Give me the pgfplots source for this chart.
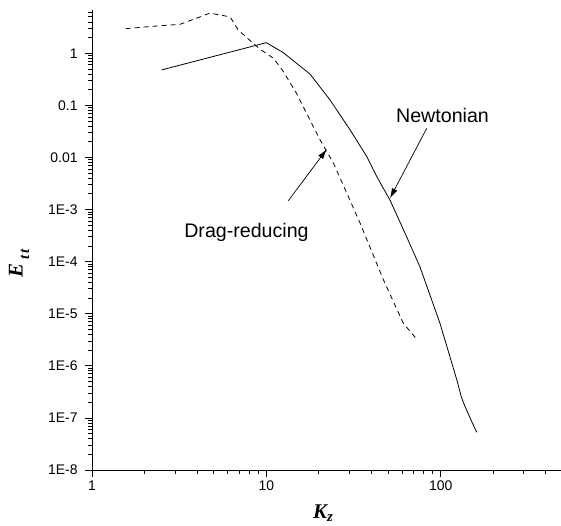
\documentclass[border=0pt]{standalone}
\usepackage{pgfplots}
\pgfplotsset{compat=1.18}
\usetikzlibrary{arrows.meta}
\usepackage{fontspec}
\setmainfont{Liberation Sans}
\newfontfamily\timesf{Liberation Serif}
\begin{document}
\begin{tikzpicture}
\begin{axis}[
  at={(0,0)}, anchor=south west,
  scale only axis, width=469bp, height=460bp,
  xmode=log, ymode=log,
  xmin=1, xmax=490, ymin=1e-8, ymax=6.78,
  axis x line*=bottom, axis y line*=left,
  axis line style={line width=0.8bp},
  tick align=outside,
  every tick/.style={black, line width=0.8bp},
  major tick length=7bp, minor tick length=4bp,
  xtick={1,10,100}, xticklabels={1,10,100},
  minor xtick={2,3,4,5,6,7,8,9,20,30,40,50,60,70,80,90,200,300,400},
  ytick={1e-8,1e-7,1e-6,1e-5,1e-4,1e-3,1e-2,1e-1,1},
  yticklabels={1E-8,1E-7,1E-6,1E-5,1E-4,1E-3,0.01,0.1,1},
  minor ytick={2e-8,3e-8,4e-8,5e-8,6e-8,7e-8,8e-8,9e-8,
    2e-7,3e-7,4e-7,5e-7,6e-7,7e-7,8e-7,9e-7,
    2e-6,3e-6,4e-6,5e-6,6e-6,7e-6,8e-6,9e-6,
    2e-5,3e-5,4e-5,5e-5,6e-5,7e-5,8e-5,9e-5,
    2e-4,3e-4,4e-4,5e-4,6e-4,7e-4,8e-4,9e-4,
    2e-3,3e-3,4e-3,5e-3,6e-3,7e-3,8e-3,9e-3,
    2e-2,3e-2,4e-2,5e-2,6e-2,7e-2,8e-2,9e-2,
    2e-1,3e-1,4e-1,5e-1,6e-1,7e-1,8e-1,9e-1,
    2,3,4,5,6},
  tick label style={font=\fontsize{14}{16}\selectfont},
  yticklabel style={xshift=-4bp},
]
\addplot[black, line width=0.8bp] coordinates {
(2.51,0.48) (10,1.6) (12.5,1.03) (17.8,0.40) (23.2,0.127) (30.2,0.034)
(37.7,0.0104) (43,0.0043) (51.3,0.0015) (63.8,3.0e-4) (76,8e-5)
(99,6.6e-6) (113,1.5e-6) (123.7,5.4e-7) (132,2.4e-7) (138,1.65e-7)
(150.7,8.5e-8) (161,5.3e-8)};
\addplot[black, line width=0.8bp, dash pattern=on 5bp off 4bp] coordinates {
(1.56,2.97) (2.24,3.3) (3.2,3.6) (4.75,5.9) (6.2,5.0) (6.9,2.8) (8.4,1.56)
(9.2,1.2) (11,0.8) (12.5,0.45) (14.9,0.17) (20.3,0.022) (24.3,0.0077)
(34.5,5.5e-4) (46.9,4.5e-5) (61,6.6e-6) (72,3.4e-6)};
\draw[line width=0.7bp, -{Latex[length=10bp,width=6bp]}] (axis cs:13.37,1.48e-3) -- (axis cs:22.2,0.01437);
\draw[line width=0.7bp, -{Latex[length=10bp,width=6bp]}] (axis cs:83.2,0.0363) -- (axis cs:51.2,1.65e-3);
\end{axis}
\node[font=\fontsize{19.7}{22}\selectfont] at (350.5bp,355bp) {Newtonian};
\node[font=\fontsize{19.7}{22}\selectfont] at (154.5bp,238bp) {Drag-reducing};
\node[rotate=90] at (-73bp,207bp) {\timesf\bfseries\itshape\fontsize{21}{21}\selectfont E\,\raisebox{-6.5bp}{\fontsize{15}{15}\selectfont t\,t}};
\node at (231bp,-43bp) {\timesf\bfseries\itshape\fontsize{21}{21}\selectfont K\raisebox{-3.5bp}{\fontsize{15}{15}\selectfont z}};
\pgfresetboundingbox
\useasboundingbox (-92bp,-56bp) rectangle (469bp,470bp);
\end{tikzpicture}
\end{document}
